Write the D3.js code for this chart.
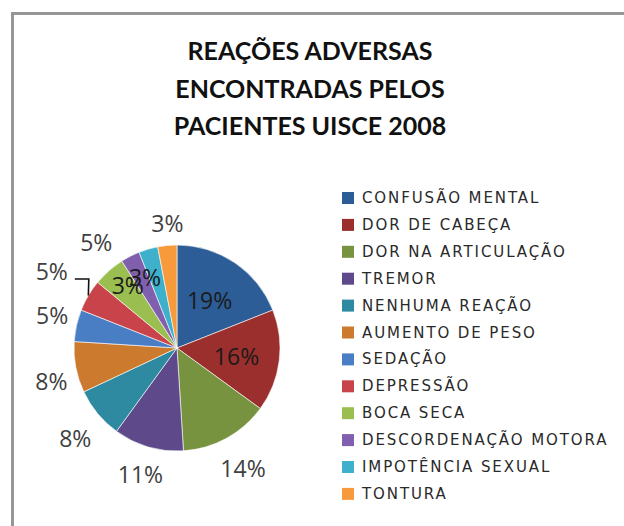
<!DOCTYPE html>
<html>
<head>
<meta charset="utf-8">
<script src="https://cdn.jsdelivr.net/npm/d3@7"></script>
<style>
  body { margin: 0; background: #fff; }
  svg { display: block; }
</style>
</head>
<body>
<div id="chart"></div>
<script>
// data
const categories = ["CONFUSÃO MENTAL", "DOR DE CABEÇA", "DOR NA ARTICULAÇÃO", "TREMOR",
  "NENHUMA REAÇÃO", "AUMENTO DE PESO", "SEDAÇÃO", "DEPRESSÃO", "BOCA SECA",
  "DESCORDENAÇÃO MOTORA", "IMPOTÊNCIA SEXUAL", "TONTURA"]
const values = [19, 16, 14, 11, 8, 8, 5, 5, 5, 3, 3, 3]
const titleLines = ["REAÇÕES ADVERSAS", "ENCONTRADAS PELOS", "PACIENTES UISCE 2008"]

const colors = ["#2c5d96", "#9a2f2d", "#779340", "#5e4a8a", "#2d8aa0", "#cc7a2e",
  "#4a7ec4", "#c8444a", "#9bbe50", "#7f5fae", "#3eb0cc", "#f79a3c"]

// label placement: distance from centre and angle nudge (degrees)
const labelR  = [58, 60, 137, 131, 136, 130, 129, 147, 133, 80, 78, 125]
const labelDA = [0, 0, 0, 0, -2, -4, 2, 1, 4, -11, -8, 1]

const width = 624, height = 526
const cx = 177, cy = 348, R = 103

const svg = d3.select("#chart").append("svg")
  .attr("width", width)
  .attr("height", height)

// frame (only top and left edges are visible)
svg.append("path")
  .attr("d", "M12.5,526 L12.5,13.5 L624,13.5")
  .attr("fill", "none")
  .attr("stroke", "#969696")
  .attr("stroke-width", 3)

// title
svg.append("g")
  .selectAll("text")
  .data(titleLines)
  .join("text")
    .attr("x", 310)
    .attr("y", (d, i) => 60 + i * 37.5)
    .attr("text-anchor", "middle")
    .attr("font-family", "Lato")
    .attr("font-weight", "bold")
    .attr("font-size", "25px")
    .attr("fill", "#111")
    .text(d => d)

const pie = d3.pie().sort(null).value(d => d)
const arcs = pie(values)
const arc = d3.arc().innerRadius(0).outerRadius(R)

const g = svg.append("g")
  .attr("transform", "translate(" + cx + "," + cy + ")")

g.selectAll("path")
  .data(arcs)
  .join("path")
    .attr("d", arc)
    .attr("fill", (d, i) => colors[i])
    .attr("stroke", "#fff")
    .attr("stroke-width", 0.6)

const toRad = Math.PI / 180
function labelPos(d, i) {
  const a = (d.startAngle + d.endAngle) / 2 + labelDA[i] * toRad
  return [labelR[i] * Math.sin(a), -labelR[i] * Math.cos(a)]
}

// leader line for the DEPRESSÃO label
const dep = arcs[7]
const depMid = (dep.startAngle + dep.endAngle) / 2
const edge = [R * Math.sin(depMid), -R * Math.cos(depMid)]
const lp = labelPos(dep, 7)
g.append("path")
  .attr("d", d3.line()([[lp[0] + 23, lp[1] + 8], [lp[0] + 37, lp[1] + 8], edge]))
  .attr("fill", "none")
  .attr("stroke", "#111")
  .attr("stroke-width", 1.6)

g.selectAll("text.lab")
  .data(arcs)
  .join("text")
    .attr("class", "lab")
    .attr("x", (d, i) => labelPos(d, i)[0])
    .attr("y", (d, i) => labelPos(d, i)[1])
    .attr("text-anchor", "middle")
    .attr("dominant-baseline", "central")
    .attr("font-family", "Open Sans")
    .attr("font-size", "23px")
    .attr("fill", (d, i) => labelR[i] < R ? "#1a1a1a" : "#404040")
    .text(d => d.data + "%")

// legend
const legend = svg.append("g")
  .attr("transform", "translate(342,198)")

const rows = legend.selectAll("g")
  .data(categories)
  .join("g")
    .attr("transform", (d, i) => "translate(0," + (i * 26.9) + ")")

rows.append("rect")
  .attr("x", 0)
  .attr("y", -6)
  .attr("width", 12)
  .attr("height", 12)
  .attr("fill", (d, i) => colors[i])

rows.append("text")
  .attr("x", 20)
  .attr("y", 0)
  .attr("dominant-baseline", "central")
  .attr("font-family", "DejaVu Sans")
  .attr("font-size", "15px")
  .attr("letter-spacing", "1.9px")
  .attr("fill", "#2a2a2a")
  .text(d => d)
</script>
</body>
</html>
